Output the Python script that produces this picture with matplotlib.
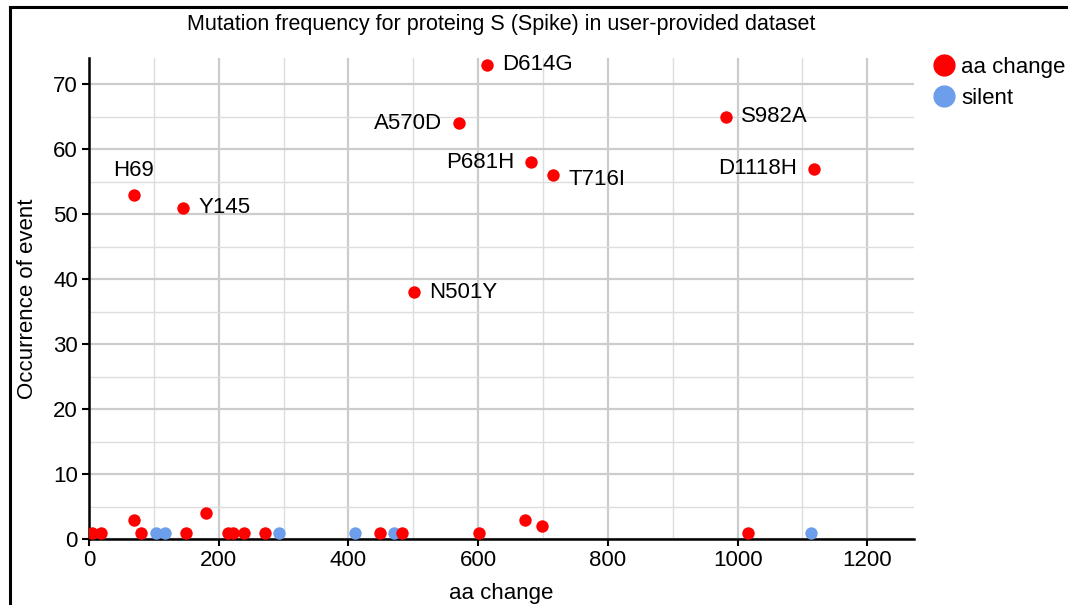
import matplotlib
matplotlib.use("Agg")
import matplotlib.pyplot as plt
from matplotlib.lines import Line2D
import numpy as np

plt.rcParams["font.family"] = ["Liberation Sans", "DejaVu Sans"]

# amino-acid changes (red)
aa_pos = [5, 18, 69, 80, 149, 181, 214, 222, 239, 271, 449, 483, 601, 672, 698, 1016,
          69, 145, 501, 570, 614, 681, 716, 982, 1118]
aa_count = [1, 1, 3, 1, 1, 4, 1, 1, 1, 1, 1, 1, 1, 3, 2, 1,
            53, 51, 38, 64, 73, 58, 56, 65, 57]

# silent mutations (blue)
silent_pos = [103, 117, 293, 410, 470, 1113]
silent_count = [1, 1, 1, 1, 1, 1]

# labelled mutations: name, position, count, side
labels = ["H69", "Y145", "N501Y", "A570D", "D614G", "P681H", "T716I", "S982A", "D1118H"]
label_pos = [69, 145, 501, 570, 614, 681, 716, 982, 1118]
label_count = [53, 51, 38, 64, 73, 58, 56, 65, 57]
label_side = ["top", "right", "right", "left", "right", "left", "right", "right", "left"]

RED = "#ff0000"
BLUE = "#6d9eeb"
FS = 16

fig = plt.figure(figsize=(10.68, 6.05), dpi=100)
ax = fig.add_axes([89 / 1068, 1 - 539.3 / 605, (914 - 89) / 1068, (539.3 - 58) / 605])

ax.scatter(silent_pos, silent_count, s=80, color=BLUE, zorder=3, linewidths=0)
ax.scatter(aa_pos, aa_count, s=80, color=RED, zorder=4, linewidths=0)

for name, x, y, side in zip(labels, label_pos, label_count, label_side):
    if side == "top":
        ax.annotate(name, (x, y), xytext=(0, 10), textcoords="offset points",
                    ha="center", va="bottom", fontsize=FS)
    elif side == "left":
        ax.annotate(name, (x, y), xytext=(-12, 0), textcoords="offset points",
                    ha="right", va="center", fontsize=FS)
    else:
        dy = -3 if name == "T716I" else 0
        ax.annotate(name, (x, y), xytext=(11, dy), textcoords="offset points",
                    ha="left", va="center", fontsize=FS)

ax.set_xlim(0, 1272)
ax.set_ylim(0, 74)
ax.set_xticks(np.arange(0, 1201, 200))
ax.set_xticks(np.arange(100, 1201, 200), minor=True)
ax.set_yticks(np.arange(0, 71, 10))
ax.set_yticks(np.arange(5, 71, 10), minor=True)
ax.grid(True, which="major", color="#cccccc", linewidth=1.6)
ax.grid(True, which="minor", color="#dddddd", linewidth=1.0)
ax.set_axisbelow(True)

for s in ["top", "right"]:
    ax.spines[s].set_visible(False)
for s in ["left", "bottom"]:
    ax.spines[s].set_linewidth(1.8)
    ax.spines[s].set_color("black")
ax.tick_params(which="major", length=5, width=1.5, labelsize=FS, direction="out", pad=3)
ax.tick_params(which="minor", length=0)

ax.set_xlabel("aa change", fontsize=FS, labelpad=8)
ax.set_ylabel("Occurrence of event", fontsize=FS, labelpad=11)
ax.set_title("Mutation frequency for proteing S (Spike) in user-provided dataset",
             fontsize=15.5, pad=20)

handles = [
    Line2D([], [], marker="o", linestyle="", color=RED, markersize=15, label="aa change"),
    Line2D([], [], marker="o", linestyle="", color=BLUE, markersize=15, label="silent"),
]
fig.legend(handles=handles, loc="upper left", bbox_to_anchor=(918 / 1068, 1 - 48 / 605),
           frameon=False, fontsize=FS, handletextpad=0.05, labelspacing=0.45,
           borderaxespad=0, handlelength=1.5)

# outer frame lines at top and left of the image
fig.add_artist(Line2D([9.5 / 1068, 1], [1 - 6.5 / 605] * 2, color="black", linewidth=2.2))
fig.add_artist(Line2D([9.5 / 1068] * 2, [0, 1 - 6.5 / 605], color="black", linewidth=2.2))

fig.savefig("out.png", dpi=100)
